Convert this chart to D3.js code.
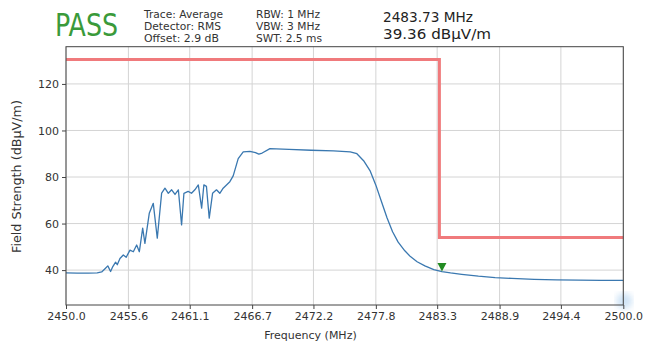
<!DOCTYPE html>
<html>
<head>
<meta charset="utf-8">
<script src="https://cdn.jsdelivr.net/npm/d3@7"></script>
<style>
  html, body { margin: 0; padding: 0; background: #fff; }
  svg { display: block; font-family: "DejaVu Sans", sans-serif; }
</style>
</head>
<body>
<svg id="chart" width="648" height="347"></svg>
<script>
// Measured trace (MHz, dBµV/m)
const traceFreq = [
  2450.0, 2451.0, 2452.0, 2452.8, 2453.2, 2453.5, 2453.75, 2454.0, 2454.2, 2454.45,
  2454.6, 2454.84, 2455.14, 2455.4, 2455.74, 2456.04, 2456.34, 2456.58, 2456.88, 2457.08,
  2457.47, 2457.83, 2458.19, 2458.58, 2458.88, 2459.18, 2459.48, 2459.78, 2460.08, 2460.37,
  2460.58, 2460.96, 2461.26, 2461.56, 2461.87, 2462.17, 2462.37, 2462.6, 2462.85, 2463.15,
  2463.5, 2463.8, 2464.1, 2464.4, 2464.7, 2465.0, 2465.45, 2465.9, 2466.5, 2467.0,
  2467.3, 2467.6, 2468.3, 2470.0, 2472.0, 2474.0, 2475.5, 2476.1, 2476.7, 2477.3,
  2477.8, 2478.3, 2478.8, 2479.3, 2479.8, 2480.4, 2480.9, 2481.5, 2482.2, 2483.0,
  2483.73, 2484.5, 2485.5, 2487.0, 2488.5, 2490.0, 2492.0, 2494.0, 2496.0, 2498.0,
  2500.0
];
const traceLevel = [
  38.8, 38.7, 38.7, 38.8, 39.2, 40.6, 41.8, 39.4, 41.5, 43.4,
  42.3, 45.0, 46.5, 45.5, 48.6, 47.9, 50.8, 47.9, 58.0, 51.5,
  64.4, 68.7, 53.7, 73.1, 75.2, 73.0, 74.5, 72.5, 74.5, 59.4,
  73.0, 73.8, 73.0, 74.5, 76.6, 66.6, 76.6, 76.0, 62.3, 73.0,
  74.5, 73.0, 75.2, 76.6, 78.0, 80.5, 87.9, 90.8, 91.0, 90.5,
  89.8, 90.3, 92.2, 91.9, 91.5, 91.2, 90.8, 90.0, 87.0, 82.5,
  76.5, 69.5, 62.5, 56.5, 52.0, 48.3, 45.8, 43.6, 41.8, 40.2,
  39.36, 38.8, 38.2, 37.4, 36.8, 36.4, 36.0, 35.8, 35.7, 35.6,
  35.6
];

// Limit line (step at the band edge)
const limitFreq = [2450, 2483.5, 2483.5, 2500];
const limitLevel = [130.5, 130.5, 54, 54];

// Marker
const markerFreq = [2483.73];
const markerLevel = [39.36];

// Axis ticks and header texts
const xTicks = [2450.0, 2455.6, 2461.1, 2466.7, 2472.2, 2477.8, 2483.3, 2488.9, 2494.4, 2500.0];
const yTicks = [40, 60, 80, 100, 120];
const verdict = ["PASS"];
const settingsLeft = ["Trace: Average", "Detector: RMS", "Offset: 2.9 dB"];
const settingsRight = ["RBW: 1 MHz", "VBW: 3 MHz", "SWT: 2.5 ms"];

const W = 648, H = 347;
const m = { left: 66, right: 24.7, top: 46.7, bottom: 42 };
const svg = d3.select("#chart");

const x = d3.scaleLinear().domain([2450, 2500]).range([m.left, W - m.right]);
const y = d3.scaleLinear().domain([25, 136]).range([H - m.bottom, m.top]);

// Grid
const grid = svg.append("g").attr("stroke", "#d4d4d4").attr("stroke-width", 1);
grid.selectAll("line.v").data(xTicks).join("line")
  .attr("x1", d => x(d)).attr("x2", d => x(d))
  .attr("y1", y.range()[0]).attr("y2", y.range()[1]);
grid.selectAll("line.h").data(yTicks).join("line")
  .attr("x1", x.range()[0]).attr("x2", x.range()[1])
  .attr("y1", d => y(d)).attr("y2", d => y(d));

// Limit
const lim = d3.range(limitFreq.length).map(i => [limitFreq[i], limitLevel[i]]);
svg.append("path")
  .attr("d", d3.line().x(d => x(d[0])).y(d => y(d[1]))(lim))
  .attr("fill", "none").attr("stroke", "#f07a7c").attr("stroke-width", 3);

// Trace
const tr = d3.range(traceFreq.length).map(i => [traceFreq[i], traceLevel[i]]);
svg.append("path")
  .attr("d", d3.line().x(d => x(d[0])).y(d => y(d[1]))(tr))
  .attr("fill", "none").attr("stroke", "#3a78b0").attr("stroke-width", 1.3)
  .attr("stroke-linejoin", "round");

// Marker triangle (pointing down, tip on the trace)
svg.selectAll("path.mk").data(markerFreq).join("path")
  .attr("d", (d, i) => {
    const px = x(d), py = y(markerLevel[i]);
    return `M${px - 4.5},${py - 8.5}L${px + 4.5},${py - 8.5}L${px},${py}Z`;
  })
  .attr("fill", "#228b22");

// Soft corner badge
const defs = svg.append("defs");
defs.append("filter").attr("id", "soft").append("feGaussianBlur").attr("stdDeviation", 3);
svg.append("circle").attr("cx", x(2500) + 1).attr("cy", y(25) - 4).attr("r", 8)
  .attr("fill", "#a9cdee").attr("opacity", 0.55).attr("filter", "url(#soft)");

// Axes
const xAxis = d3.axisBottom(x).tickValues(xTicks).tickFormat(d3.format(".1f")).tickSize(4).tickPadding(3);
const yAxis = d3.axisLeft(y).tickValues(yTicks).tickFormat(d3.format("d")).tickSize(4).tickPadding(3);
const gx = svg.append("g").attr("transform", `translate(0,${H - m.bottom})`).call(xAxis);
const gy = svg.append("g").attr("transform", `translate(${m.left},0)`).call(yAxis);
[gx, gy].forEach(g => {
  g.select(".domain").remove();
  g.selectAll(".tick line").attr("stroke", "#444");
  g.selectAll(".tick text").attr("fill", "#333").attr("font-size", 11)
    .attr("font-family", "DejaVu Sans, sans-serif");
});

// Frame
svg.append("rect")
  .attr("x", m.left).attr("y", m.top)
  .attr("width", W - m.left - m.right).attr("height", H - m.top - m.bottom)
  .attr("fill", "none").attr("stroke", "#444").attr("stroke-width", 1);

// Axis titles
svg.append("text").attr("x", 310.5).attr("y", 339).attr("text-anchor", "middle")
  .attr("font-size", 11).attr("fill", "#333").text("Frequency (MHz)");
svg.append("text").attr("transform", "translate(21,176.5) rotate(-90)")
  .attr("text-anchor", "middle").attr("font-size", 11.5).attr("fill", "#333")
  .attr("textLength", 153).attr("lengthAdjust", "spacingAndGlyphs")
  .text("Field Strength (dBµV/m)");

// Header
svg.append("text").attr("x", 55).attr("y", 36).attr("font-size", 32)
  .attr("fill", "#3a9a3a").attr("textLength", 63).attr("lengthAdjust", "spacingAndGlyphs")
  .text(verdict[0]);

const leftW = [79, 77, 75], rightW = [64, 64, 66];
settingsLeft.forEach((t, i) => {
  svg.append("text").attr("x", 144).attr("y", 17.5 + i * 12).attr("font-size", 10.2)
    .attr("fill", "#333").attr("textLength", leftW[i]).attr("lengthAdjust", "spacingAndGlyphs").text(t);
});
settingsRight.forEach((t, i) => {
  svg.append("text").attr("x", 256).attr("y", 17.5 + i * 12).attr("font-size", 10.2)
    .attr("fill", "#333").attr("textLength", rightW[i]).attr("lengthAdjust", "spacingAndGlyphs").text(t);
});

svg.append("text").attr("x", 383).attr("y", 21.8).attr("font-size", 14.6).attr("fill", "#222")
  .attr("textLength", 90).attr("lengthAdjust", "spacingAndGlyphs")
  .text(`${markerFreq[0].toFixed(2)} MHz`);
svg.append("text").attr("x", 383).attr("y", 38.8).attr("font-size", 14.6).attr("fill", "#222")
  .attr("textLength", 108).attr("lengthAdjust", "spacingAndGlyphs")
  .text(`${markerLevel[0].toFixed(2)} dBµV/m`);
</script>
</body>
</html>
